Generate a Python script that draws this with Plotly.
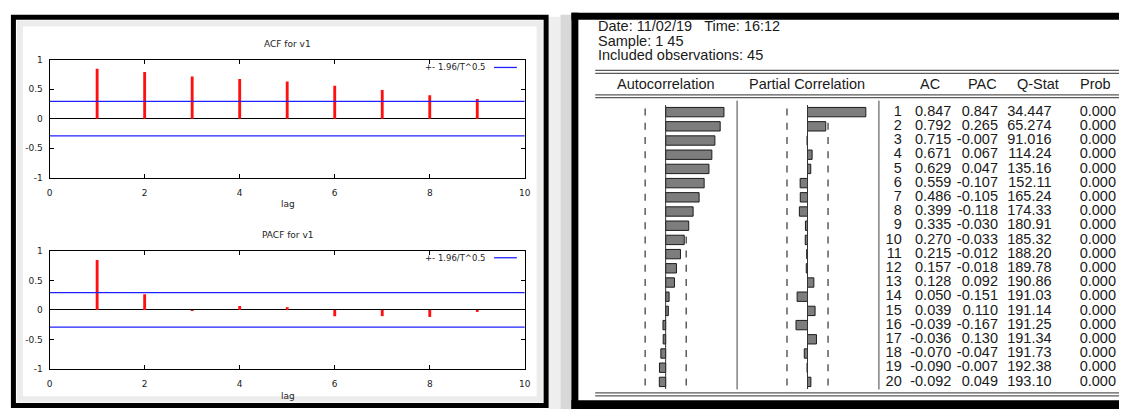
import math
import plotly.graph_objects as go

W, H = 1125, 414

# ---------------- data ----------------
lags = list(range(1, 21))
ac = [0.847, 0.792, 0.715, 0.671, 0.629, 0.559, 0.486, 0.399, 0.335, 0.270,
      0.215, 0.157, 0.128, 0.050, 0.039, -0.039, -0.036, -0.070, -0.090, -0.092]
pac = [0.847, 0.265, -0.007, 0.067, 0.047, -0.107, -0.105, -0.118, -0.030, -0.033,
       -0.012, -0.018, 0.092, -0.151, 0.110, -0.167, 0.130, -0.047, -0.007, 0.049]
qstat = [34.447, 65.274, 91.016, 114.24, 135.16, 152.11, 165.24, 174.33, 180.91, 185.32,
         188.20, 189.78, 190.86, 191.03, 191.14, 191.25, 191.34, 191.73, 192.38, 193.10]
prob = [0.000] * 20

gretl_lags = lags[:9]
gretl_acf = ac[:9]
gretl_pacf = pac[:9]

n_obs = 45
gretl_band = 1.96 / math.sqrt(n_obs)
eviews_band = 2 / math.sqrt(n_obs)

x_ticks = [0, 2, 4, 6, 8, 10]
y_ticks = [-1, -0.5, 0, 0.5, 1]
y_ticktext = ["-1", "-0.5", "0", "0.5", "1"]

header_lines = ["Date: 11/02/19\u00a0\u00a0\u00a0Time: 16:12", "Sample: 1 45", "Included observations: 45"]
col_headers = ["Autocorrelation", "Partial Correlation", "AC", "PAC", "Q-Stat", "Prob"]


# ---------------- helpers ----------------
def fx(x):
    return x / W


def fy(y):
    return 1 - y / H


def qfmt(q):
    return f"{q:.3f}" if q < 100 else f"{q:.2f}"


fig = go.Figure()

# ---------------- gretl ACF / PACF ----------------
RED = "#ff1010"
BLUE = "#2020ff"
for i, (vals, xa, ya) in enumerate([(gretl_acf, "x", "y"), (gretl_pacf, "x2", "y2")]):
    fig.add_trace(go.Scatter(x=[0, 10], y=[gretl_band, gretl_band], mode="lines",
                             line=dict(color=BLUE, width=1.3), xaxis=xa, yaxis=ya,
                             showlegend=False, hoverinfo="skip"))
    fig.add_trace(go.Scatter(x=[0, 10], y=[-gretl_band, -gretl_band], mode="lines",
                             line=dict(color=BLUE, width=1.3), xaxis=xa, yaxis=ya,
                             showlegend=False, hoverinfo="skip"))
    fig.add_trace(go.Bar(x=gretl_lags, y=vals, width=0.06, marker=dict(color=RED, line=dict(width=0)),
                         xaxis=xa, yaxis=ya, showlegend=False))

gfont = dict(family="DejaVu Sans", size=9, color="#222")


def gx(dom_anchor):
    return dict(domain=[fx(47), fx(526)], range=[0, 10], tickvals=x_ticks,
                showline=True, linecolor="black", linewidth=1, mirror="ticks",
                ticks="inside", ticklen=4, tickcolor="black", showgrid=False,
                zeroline=False, tickfont=gfont, anchor=dom_anchor, ticklabelstandoff=6,
                fixedrange=True)


def gy(top, bottom, anchor):
    return dict(domain=[fy(bottom), fy(top)], range=[-1, 1], tickvals=y_ticks, ticktext=y_ticktext,
                showline=True, linecolor="black", linewidth=1, mirror="ticks",
                ticks="inside", ticklen=4, tickcolor="black", showgrid=False,
                zeroline=True, zerolinecolor="black", zerolinewidth=1,
                tickfont=gfont, anchor=anchor, ticklabelstandoff=4, fixedrange=True)


# ---------------- EViews correlogram ----------------
PPU = 69.4           # pixels per correlation unit in the bar columns
ZERO_AC, ZERO_PAC = 668, 811
ROW_TOP, ROW_BOT = 102.5, 393.5

bar_style = dict(color="#7d7d7d", line=dict(color="#1c1c1c", width=1))
fig.add_trace(go.Bar(y=lags, x=ac, orientation="h", width=0.66, marker=bar_style,
                     xaxis="x3", yaxis="y3", showlegend=False))
fig.add_trace(go.Bar(y=lags, x=pac, orientation="h", width=0.66, marker=bar_style,
                     xaxis="x4", yaxis="y3", showlegend=False))

dash_marker = dict(symbol="line-ns", size=5, line=dict(color="#333", width=1.2))
for vals, xa in [(ac, "x3"), (pac, "x4")]:
    lo = [l for l, v in zip(lags, vals) if v > -eviews_band]
    hi = [l for l, v in zip(lags, vals) if v < eviews_band]
    fig.add_trace(go.Scatter(x=[-eviews_band] * len(lo), y=lo, mode="markers", marker=dash_marker,
                             xaxis=xa, yaxis="y3", showlegend=False, hoverinfo="skip"))
    fig.add_trace(go.Scatter(x=[eviews_band] * len(hi), y=hi, mode="markers", marker=dash_marker,
                             xaxis=xa, yaxis="y3", showlegend=False, hoverinfo="skip"))

tfont = dict(family="Liberation Sans, Arial", size=14.5, color="#1a1a1a")
columns = [
    (906, [str(l) for l in lags]),
    (956, [f"{v:.3f}" for v in ac]),
    (1003, [f"{v:.3f}" for v in pac]),
    (1057, [qfmt(q) for q in qstat]),
    (1122, [f"{p:.3f}" for p in prob]),
]
for xr, texts in columns:
    fig.add_trace(go.Scatter(x=[xr] * len(texts), y=lags, mode="text", text=texts,
                             textposition="middle left", textfont=tfont, cliponaxis=False,
                             xaxis="x5", yaxis="y3", showlegend=False, hoverinfo="skip"))

hidden = dict(visible=False, fixedrange=True)
fig.update_layout(
    width=W, height=H,
    margin=dict(l=0, r=0, t=0, b=0),
    paper_bgcolor="white", plot_bgcolor="white",
    barmode="overlay",
    xaxis=gx("y"),
    yaxis=gy(56, 177, "x"),
    xaxis2=gx("y2"),
    yaxis2=gy(252, 373, "x2"),
    xaxis3=dict(domain=[fx(597), fx(740)], range=[(597 - ZERO_AC) / PPU, (740 - ZERO_AC) / PPU],
                anchor="y3", **hidden),
    xaxis4=dict(domain=[fx(740), fx(883)], range=[(740 - ZERO_PAC) / PPU, (883 - ZERO_PAC) / PPU],
                anchor="y3", **hidden),
    xaxis5=dict(domain=[fx(883), 1.0], range=[883, W], anchor="y3", **hidden),
    yaxis3=dict(domain=[fy(ROW_BOT), fy(ROW_TOP)], range=[20.5, 0.5], anchor="x3", **hidden),
)

shapes = []
ann = []

# gretl titles, labels, legends
for title, ty, ly, legy in [("ACF for v1", 40, 204, 64), ("PACF for v1", 236, 401, 259)]:
    ann.append(dict(text=title, x=fx(287), y=fy(ty), xref="paper", yref="paper",
                    showarrow=False, font=gfont, xanchor="center", yanchor="middle"))
    ann.append(dict(text="lag", x=fx(287), y=fy(ly), xref="paper", yref="paper",
                    showarrow=False, font=gfont, xanchor="center", yanchor="middle"))
    ann.append(dict(text="+- 1.96/T^0.5", x=fx(489), y=fy(legy), xref="paper", yref="paper",
                    showarrow=False, font=dict(family="DejaVu Sans", size=8.5, color="#222"),
                    xanchor="right", yanchor="middle"))
    shapes.append(dict(type="line", xref="paper", yref="paper", x0=fx(495), x1=fx(518),
                       y0=fy(legy), y1=fy(legy), line=dict(color=BLUE, width=1.3)))

# left panel frame with soft inner shadow
shapes.append(dict(type="rect", xref="paper", yref="paper", x0=fx(17), x1=fx(541), y0=fy(19), y1=fy(404),
                   line=dict(color="#ececec", width=6)))
shapes.append(dict(type="rect", xref="paper", yref="paper", x0=fx(10.5), x1=fx(547.5), y0=fy(12.5), y1=fy(410.5),
                   line=dict(color="black", width=5)))
# gap shadow between panels
shapes.append(dict(type="rect", xref="paper", yref="paper", x0=fx(550), x1=fx(562), y0=fy(12), y1=fy(414),
                   fillcolor="#eeeeee", line=dict(width=0), layer="below"))
shapes.append(dict(type="rect", xref="paper", yref="paper", x0=fx(562), x1=fx(573), y0=fy(10), y1=fy(414),
                   fillcolor="#d8d8d8", line=dict(width=0), layer="below"))

# right panel black frame
shapes.append(dict(type="rect", xref="paper", yref="paper", x0=fx(573), x1=fx(580), y0=fy(8), y1=fy(414),
                   fillcolor="black", line=dict(width=0)))
shapes.append(dict(type="rect", xref="paper", yref="paper", x0=fx(573), x1=1, y0=fy(8), y1=fy(15),
                   fillcolor="black", line=dict(width=0)))
shapes.append(dict(type="rect", xref="paper", yref="paper", x0=fx(573), x1=1, y0=fy(405), y1=0,
                   fillcolor="black", line=dict(width=0)))

# double rules
for yy in [67, 70, 92, 95, 397.5, 400.5]:
    shapes.append(dict(type="line", xref="paper", yref="paper", x0=fx(597), x1=1, y0=fy(yy), y1=fy(yy),
                       line=dict(color="#5a5a5a", width=1.3)))

# column separators and zero lines
for xa in ["x3", "x4"]:
    shapes.append(dict(type="line", xref=f"{xa} domain", yref="paper", x0=1, x1=1, y0=fy(98), y1=fy(394),
                       line=dict(color="#444", width=1)))
    shapes.append(dict(type="line", xref=xa, yref="y3 domain", x0=0, x1=0, y0=0, y1=1,
                       line=dict(color="#333", width=1)))

# header text
for i, line in enumerate(header_lines):
    ann.append(dict(text=line, x=fx(598), y=fy(22 + 14.5 * i), xref="paper", yref="paper",
                    showarrow=False, font=tfont, xanchor="left", yanchor="middle"))
for txt, cx in zip(col_headers, [668, 810, 934, 987, 1043, 1101]):
    ann.append(dict(text=txt, x=fx(cx), y=fy(81), xref="paper", yref="paper",
                    showarrow=False, font=tfont, xanchor="center", yanchor="middle"))

fig.update_layout(shapes=shapes, annotations=ann)

fig.write_html("out.html", config={"displayModeBar": False},
               post_script="document.body.style.margin='0';document.body.style.overflow='hidden';"
                           "window.dispatchEvent(new Event('resize'));")
